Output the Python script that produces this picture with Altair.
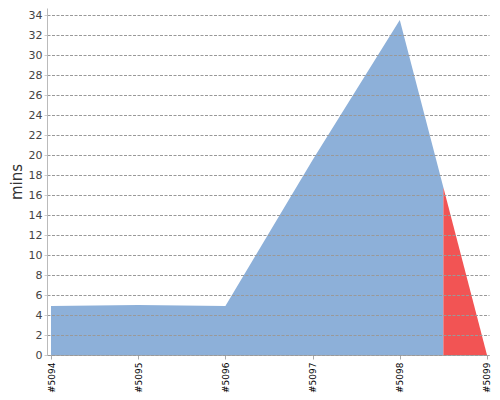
import altair as alt
import pandas as pd

builds = ["#5094", "#5095", "#5096", "#5097", "#5098", "#5099"]
minutes = [4.9, 5.0, 4.9, 19.5, 33.5, 0.0]
status = ["stable", "stable", "stable", "stable", "stable", "failed"]

# Each build colours the band from the midpoint before it to the midpoint after it;
# consecutive builds with the same status are merged into one run.
rows = []
run = 0
for i, (m, s) in enumerate(zip(minutes, status)):
    if i > 0 and status[i - 1] != s:
        run += 1
    pts = []
    if i > 0 and status[i - 1] != s:
        pts.append((i - 0.5, (minutes[i - 1] + m) / 2))
    pts.append((i, m))
    if i < len(minutes) - 1 and status[i + 1] != s:
        pts.append((i + 0.5, (minutes[i + 1] + m) / 2))
    for x, y in pts:
        rows.append({"idx": float(x), "mins": float(y), "status": s, "run": f"r{run}"})
df = pd.DataFrame(rows)

label_expr = "[" + ",".join(f"'{b}'" for b in builds) + "][datum.value]"

x_enc = alt.X("idx:Q",
              scale=alt.Scale(domain=[-0.0459, 5.023], nice=False, zero=False),
              axis=alt.Axis(values=list(range(len(builds))), labelExpr=label_expr,
                            labelAngle=-90, labelFontSize=9, labelColor="#000",
                            labelFont="DejaVu Sans", grid=False, title=None,
                            domainColor="#aaa", tickColor="#aaa", tickSize=4,
                            labelPadding=3))
y_enc = alt.Y("mins:Q", stack=None,
              scale=alt.Scale(domain=[0, 34.7], nice=False),
              axis=alt.Axis(values=list(range(0, 35, 2)), title="mins",
                            titleFontSize=15, titleFontWeight="normal",
                            titleColor="#333", titleFont="DejaVu Sans",
                            labelFontSize=11, labelColor="#444", labelFont="DejaVu Sans",
                            gridDash=[3, 1.5], gridColor="#999", gridWidth=1,
                            domainColor="#bbb", tickColor="#ccc", tickSize=3,
                            zindex=1, titlePadding=4))

chart = alt.Chart(df).mark_area(interpolate="linear").encode(
    x=x_enc,
    y=y_enc,
    color=alt.Color("status:N",
                    scale=alt.Scale(domain=["stable", "failed"],
                                    range=["#8DB0D9", "#F25454"]),
                    legend=None),
    detail="run:N",
).properties(
    width=442, height=347,
    autosize=alt.AutoSizeParams(type="none"),
    padding={"left": 39, "top": 0, "right": 3, "bottom": 44},
).configure_view(stroke=None)

chart.save("out.html", embed_options={"renderer": "svg", "actions": False})
